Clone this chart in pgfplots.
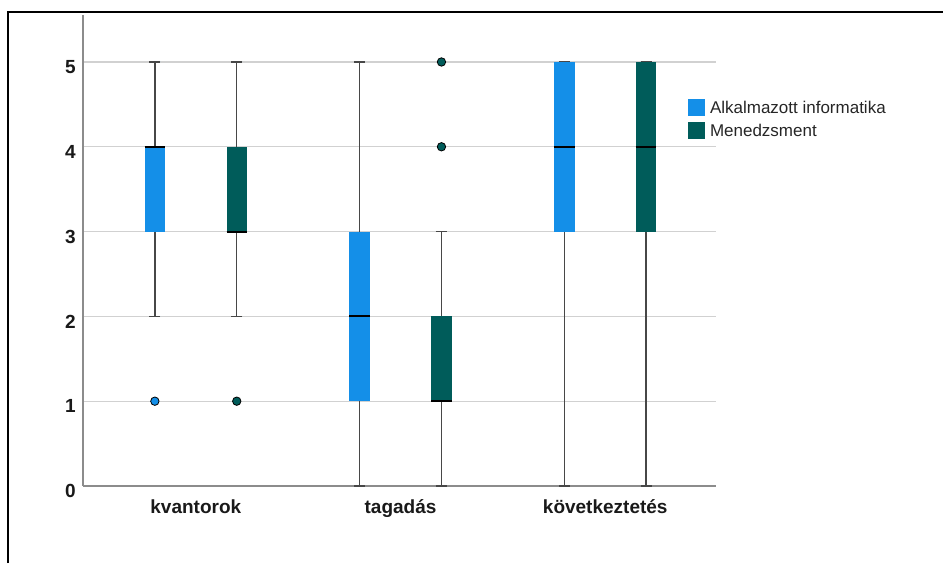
\documentclass[border=0pt]{standalone}
\usepackage{pgfplots}
\pgfplotsset{compat=1.18}
\usepgfplotslibrary{statistics}
\usepackage{fontspec}
\setmainfont{Liberation Sans}
\definecolor{aiblue}{RGB}{20,143,232}
\definecolor{mgreen}{RGB}{0,92,90}
\begin{document}
\begin{tikzpicture}
\useasboundingbox (-83pt,-77pt) rectangle (860pt,486pt);
\draw[black, line width=1.5pt] (-75pt,-77pt) -- (-75pt,474pt) -- (860pt,474pt);
\begin{axis}[
 scale only axis, width=633pt, height=471pt,
 xmin=-0.551, xmax=2.541, ymin=0, ymax=5.554,
 axis x line*=bottom, axis y line*=left,
 axis line style={black!45, line width=1.3pt},
 xtick={0,1,2}, xticklabels={kvantorok,tagadás,következtetés},
 ytick={0,1,2,3,4,5},
 major tick length=0pt,
 ymajorgrids, grid style={black!18, line width=1.2pt},
 /pgf/number format/assume math mode=true,
 ticklabel style={font=\fontsize{19}{19}\selectfont\bfseries, text=black!90, inner sep=0pt},
 yticklabel style={anchor=east, xshift=-7pt, yshift=-5pt},
 xticklabel style={anchor=north, text height=14pt, text depth=4pt, yshift=-13pt},
 boxplot/draw direction=y,
 boxplot/box extend=0.1,
 boxplot/whisker extend=0.054,
 boxplot/every box/.style={draw=none},
 boxplot/every whisker/.style={draw=black!72, line width=1.5pt},
 boxplot/every median/.style={draw=black, line width=2pt},
 ai/.style={fill=aiblue, draw=black!72, line width=1.5pt, mark=*, mark size=4.2pt, mark options={fill=aiblue, draw=black, line width=0.8pt}, forget plot},
 mg/.style={fill=mgreen, draw=black!72, line width=1.5pt, mark=*, mark size=4.2pt, mark options={fill=mgreen, draw=black, line width=0.8pt}, forget plot},
 legend image code/.code={\fill[#1] (0pt,-2.5pt) rectangle (17pt,14.5pt); \path (22pt,0pt);},
 legend style={draw=none, fill=none, at={(axis description cs:0.9558,0.8217)}, anchor=north west,
   inner sep=0pt, outer sep=0pt, row sep=6pt, font=\fontsize{17}{17}\selectfont, text=black!85,
   nodes={inner sep=0pt, text height=14.5pt, text depth=2.5pt, anchor=base west}},
 legend cell align=left,
]
\addlegendimage{fill=aiblue, draw=none}
\addlegendentry{Alkalmazott informatika}
\addlegendimage{fill=mgreen, draw=none}
\addlegendentry{Menedzsment}

% kvantorok
\addplot[ai, boxplot prepared={draw position=-0.2, lower whisker=2, lower quartile=3, median=4, upper quartile=4, upper whisker=5}] coordinates {(0,1)};
\addplot[mg, boxplot prepared={draw position=0.2, lower whisker=2, lower quartile=3, median=3, upper quartile=4, upper whisker=5}] coordinates {(0,1)};
% tagadas
\addplot[ai, boxplot prepared={draw position=0.8, lower whisker=0, lower quartile=1, median=2, upper quartile=3, upper whisker=5}] coordinates {};
\addplot[mg, boxplot prepared={draw position=1.2, lower whisker=0, lower quartile=1, median=1, upper quartile=2, upper whisker=3}] coordinates {(0,4) (0,5)};
% kovetkeztetes
\addplot[ai, boxplot prepared={draw position=1.8, lower whisker=0, lower quartile=3, median=4, upper quartile=5, upper whisker=5}] coordinates {};
\addplot[mg, boxplot prepared={draw position=2.2, lower whisker=0, lower quartile=3, median=4, upper quartile=5, upper whisker=5}] coordinates {};
\end{axis}
\end{tikzpicture}
\end{document}
